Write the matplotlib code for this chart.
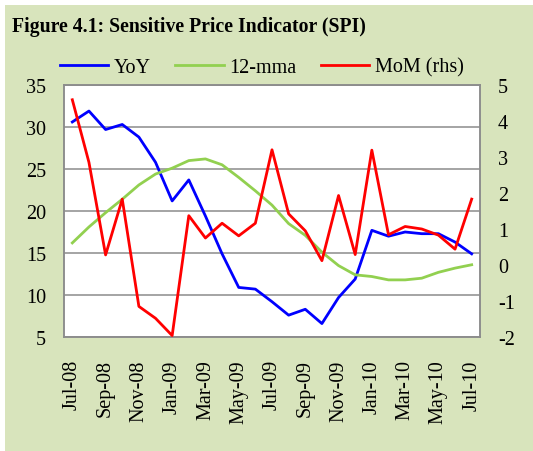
import matplotlib
matplotlib.use("Agg")
import matplotlib.pyplot as plt
from matplotlib.patches import Rectangle

months = ["Jul-08", "Aug-08", "Sep-08", "Oct-08", "Nov-08", "Dec-08", "Jan-09", "Feb-09",
          "Mar-09", "Apr-09", "May-09", "Jun-09", "Jul-09", "Aug-09", "Sep-09", "Oct-09",
          "Nov-09", "Dec-09", "Jan-10", "Feb-10", "Mar-10", "Apr-10", "May-10", "Jun-10", "Jul-10"]
yoy = [30.6, 31.9, 29.7, 30.3, 28.8, 25.8, 21.2, 23.7, 19.4, 14.9, 10.9, 10.7, 9.2,
       7.6, 8.3, 6.6, 9.7, 11.9, 17.7, 17.0, 17.5, 17.3, 17.3, 16.3, 14.9]
mma12 = [16.2, 18.1, 19.8, 21.4, 23.1, 24.4, 25.1, 26.0, 26.2, 25.5, 24.0, 22.4, 20.7,
         18.5, 17.1, 15.1, 13.5, 12.4, 12.2, 11.8, 11.8, 12.0, 12.7, 13.2, 13.6]
mom = [4.59, 2.85, 0.28, 1.83, -1.15, -1.48, -1.96, 1.37, 0.75, 1.16, 0.81, 1.16, 3.2,
       1.42, 0.95, 0.12, 1.93, 0.29, 3.19, 0.84, 1.07, 1.0, 0.83, 0.44, 1.83]

left_ticks = [5, 10, 15, 20, 25, 30, 35]
right_ticks = [-2, -1, 0, 1, 2, 3, 4, 5]

plt.rcParams['font.family'] = ['Liberation Serif', 'DejaVu Serif']
plt.rcParams['axes.unicode_minus'] = False

W, H = 533, 452
fig = plt.figure(figsize=(W / 100, H / 100), dpi=100)
fig.patch.set_facecolor("white")
fig.patches.append(Rectangle((5 / W, 0), 1 - 5 / W, 446 / H, transform=fig.transFigure,
                             facecolor="#d8e4bc", edgecolor="none", zorder=-10))

ax = fig.add_axes([64 / W, 1 - 338 / H, (480 - 64) / W, (338 - 86) / H])
ax2 = ax.twinx()
x = list(range(len(months)))

l1, = ax.plot(x, yoy, color="#0000ff", lw=2.0, label="YoY", zorder=3)
l2, = ax.plot(x, mma12, color="#92d050", lw=2.0, label="12-mma", zorder=3)
l3, = ax2.plot(x, mom, color="#ff0000", lw=2.0, label="MoM (rhs)", zorder=3)

ax.set_xlim(-0.5, len(months) - 0.5)
ax.set_ylim(5, 35)
ax2.set_ylim(-2, 5)
ax.set_yticks(left_ticks)
ax2.set_yticks(right_ticks)
ax.set_xticks(x[::2])
ax.set_xticklabels(months[::2], rotation=90, fontsize=14.5)
ax.tick_params(axis='y', length=0, pad=13, labelsize=14.5)
ax.tick_params(axis='x', length=0, pad=16)
ax2.tick_params(axis='y', length=0, pad=13, labelsize=14.5)
ax.grid(axis='y', color="#8c8c8c", lw=1.1)
ax.set_axisbelow(True)
for a in (ax, ax2):
    for s in a.spines.values():
        s.set_color("#8c8c8c")
        s.set_linewidth(1.1)
ax.set_facecolor("white")

fig.text(12 / W, 1 - 27 / H, "Figure 4.1: Sensitive Price Indicator (SPI)", fontsize=14.2,
         fontweight="bold", va="center", ha="left", family="Liberation Serif")
fig.legend(handles=[l1, l2, l3], loc="center", bbox_to_anchor=(262 / W, 1 - 68 / H), ncol=3,
           frameon=False, prop={"family": "Liberation Serif", "size": 14.5},
           handlelength=2.4, columnspacing=1.2, handletextpad=0.3)

fig.savefig("out.png", dpi=100)
